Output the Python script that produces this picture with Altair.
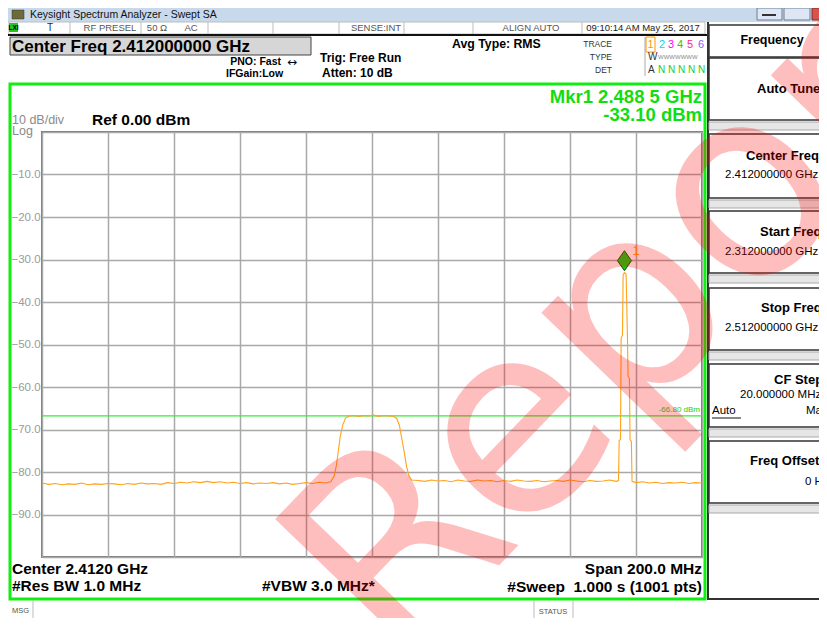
import altair as alt
import pandas as pd

# ---------------- data ----------------
freq_mhz = [
    2312.0, 2314.0, 2316.0, 2318.0, 2320.0, 2322.0, 2324.0, 2326.0, 2328.0, 2330.0,
    2332.0, 2334.0, 2336.0, 2338.0, 2340.0, 2342.0, 2344.0, 2346.0, 2348.0, 2350.0,
    2352.0, 2354.0, 2356.0, 2358.0, 2360.0, 2362.0, 2364.0, 2366.0, 2368.0, 2370.0,
    2372.0, 2374.0, 2376.0, 2378.0, 2380.0, 2382.0, 2384.0, 2386.0, 2388.0, 2390.0,
    2392.0, 2394.0, 2396.0, 2398.0, 2399.5, 2400.5, 2401.2, 2401.8, 2402.4, 2403.2,
    2404.0, 2405.0, 2406.5, 2408.0, 2409.5, 2411.0, 2412.5, 2414.0, 2415.5, 2417.0,
    2418.5, 2419.5, 2420.3, 2421.0, 2421.8, 2422.5, 2423.2, 2424.0, 2426.0, 2428.0,
    2430.0, 2432.0, 2434.0, 2436.0, 2438.0, 2440.0, 2442.0, 2444.0, 2446.0, 2448.0,
    2450.0, 2452.0, 2454.0, 2456.0, 2458.0, 2460.0, 2462.0, 2464.0, 2466.0, 2468.0,
    2470.0, 2472.0, 2474.0, 2476.0, 2478.0, 2480.0, 2482.0, 2484.0, 2486.0, 2486.7,
    2486.9, 2487.3, 2487.5, 2487.9, 2488.1, 2488.5, 2489.0, 2489.4, 2489.6, 2490.0,
    2490.2, 2490.6, 2490.8, 2492.0, 2494.0, 2496.0, 2498.0, 2500.0, 2502.0, 2504.0,
    2506.0, 2508.0, 2510.0, 2512.0,
]
level_dbm = [
    -82.6, -82.9, -82.7, -83.0, -82.8, -82.9, -82.6, -83.0, -82.8, -82.9,
    -82.7, -82.8, -83.0, -82.7, -82.9, -82.6, -82.8, -82.7, -82.9, -82.5,
    -82.7, -82.4, -82.6, -82.3, -82.5, -82.2, -82.5, -82.3, -82.6, -82.4,
    -82.7, -82.5, -82.8, -82.6, -82.7, -82.5, -82.8, -82.6, -82.9, -82.7,
    -82.5, -82.7, -82.4, -82.6, -82.3, -81.0, -78.5, -75.0, -71.5, -68.8,
    -67.3, -66.9, -66.7, -66.9, -66.7, -66.8, -66.6, -66.9, -66.7, -66.8,
    -66.9, -67.4, -69.0, -72.0, -75.5, -78.8, -80.9, -81.9, -82.0, -82.2,
    -81.9, -82.1, -82.0, -82.3, -81.9, -82.1, -82.2, -81.9, -82.1, -82.0,
    -82.3, -82.0, -82.2, -81.9, -82.1, -82.2, -82.0, -82.3, -82.1, -82.0,
    -82.2, -81.9, -82.1, -82.3, -82.0, -82.2, -82.1, -81.9, -82.2, -82.0,
    -72.6, -72.3, -48.5, -47.8, -33.6, -33.1, -33.4, -48.0, -57.5, -58.0,
    -72.4, -72.8, -82.2, -82.5, -82.3, -82.6, -82.4, -82.7, -82.5, -82.6,
    -82.4, -82.7, -82.5, -82.6,
]
display_line_dbm = [-66.8]
marker_ids = ["1"]
marker_freq_mhz = [2488.5]
marker_level_dbm = [-33.1]
x_grid_mhz = [2312, 2332, 2352, 2372, 2392, 2412, 2432, 2452, 2472, 2492, 2512]
y_grid_dbm = [0, -10, -20, -30, -40, -50, -60, -70, -80, -90, -100]

trace = pd.DataFrame({"freq": freq_mhz, "level": level_dbm})
dline = pd.DataFrame({"level": display_line_dbm})
mk = pd.DataFrame({"id": marker_ids, "freq": marker_freq_mhz, "level": marker_level_dbm})
dummy = pd.DataFrame({"k": [0]})

# ---------------- geometry ----------------
OX, OY = 42, 132          # page position of plot origin
W, H = 660, 425
FONT = "Liberation Sans"
NB = "\u00a0"

x_enc = alt.X("freq:Q", scale=alt.Scale(domain=[2312, 2512], nice=False, zero=False),
              axis=alt.Axis(values=x_grid_mhz, labels=False, ticks=False, domain=False,
                            grid=True, title=None, gridColor="#a9a9a9", gridWidth=1.5))
y_enc = alt.Y("level:Q", scale=alt.Scale(domain=[-100, 0], nice=False, zero=False),
              axis=alt.Axis(values=y_grid_dbm,
                            labelExpr="datum.value == 0 || datum.value == -100 ? '' : format(datum.value, '.1f')",
                            ticks=False, domain=False, grid=True, title=None,
                            labelAlign="left", labelPadding=31, labelColor="#9a9a9a",
                            labelFontSize=11.5, labelFont=FONT,
                            gridColor="#a9a9a9", gridWidth=1.5))

base = alt.Chart(dummy)


def txt(s, px, py, size=11, color="black", weight="normal", align="left", font=FONT,
        baseline="middle", **kw):
    return base.mark_text(text=s, fontSize=size, color=color, fontWeight=weight,
                          align=align, baseline=baseline, font=font, **kw
                          ).encode(x=alt.value(px - OX), y=alt.value(py - OY))


def box(x1, y1, x2, y2, fill="white", stroke="#333333", sw=1.0, fo=1.0):
    return base.mark_rect(fill=fill, fillOpacity=fo, stroke=stroke, strokeWidth=sw).encode(
        x=alt.value(x1 - OX), x2=alt.value(x2 - OX), y=alt.value(y1 - OY), y2=alt.value(y2 - OY))


def hline(x1, x2, py, color="#333333", sw=1.0):
    return base.mark_rule(color=color, strokeWidth=sw).encode(
        x=alt.value(x1 - OX), x2=alt.value(x2 - OX), y=alt.value(py - OY))


def vline(px, y1, y2, color="#333333", sw=1.0):
    return base.mark_rule(color=color, strokeWidth=sw).encode(
        x=alt.value(px - OX), y=alt.value(y1 - OY), y2=alt.value(y2 - OY))


layers = []

# ---------- window chrome ----------
layers.append(box(8, 8, 827, 22, fill="#c9d9ec", stroke="#c9d9ec", sw=0))
layers.append(box(12, 10, 24, 19, fill="#6b6a3a", stroke="#3a3a20", sw=0.5))
layers.append(txt("Keysight Spectrum Analyzer - Swept SA", 30, 15, size=10.5, color="#111111"))
layers.append(box(757, 8, 782, 20, fill="#dde6f2", stroke="#6d7f99", sw=1))
layers.append(box(784, 8, 810, 20, fill="#dde6f2", stroke="#6d7f99", sw=1))
layers.append(box(812, 8, 827, 20, fill="#d9534a", stroke="#8a2a22", sw=1))
layers.append(hline(762, 776, 15, color="#333333", sw=2))

# status row
layers.append(box(8, 22, 705, 34, fill="white", stroke="#bdbdbd", sw=1))
for px in [70, 141, 208, 273, 339, 404, 473, 582]:
    layers.append(vline(px, 22, 34, color="#bdbdbd"))
layers.append(box(9, 23, 18, 32, fill="#22c822", stroke="#22c822", sw=0))
layers.append(txt("LXI", 13.5, 28, size=6.5, color="black", weight="bold", align="center"))
layers.append(txt("T", 50, 28, size=10, color="#1a2a6a", align="center"))
layers.append(txt("RF PRESEL", 110, 28, size=9.5, color="#555555", align="center"))
layers.append(txt("50 Ω", 157, 28, size=9.5, color="#555555", align="center"))
layers.append(txt("AC", 191, 28, size=9.5, color="#555555", align="center"))
layers.append(txt("SENSE:INT", 376, 28, size=9.5, color="#555555", align="center"))
layers.append(txt("ALIGN AUTO", 531, 28, size=9.5, color="#555555", align="center"))
layers.append(txt("09:10:14 AM May 25, 2017", 643, 28, size=9.5, color="#222222", align="center"))
layers.append(hline(8, 707, 35, color="#111111", sw=2))

# header of trace window
layers.append(box(10, 37, 311, 55, fill="#d6d6d6", stroke="#444444", sw=1))
layers.append(txt("Center Freq 2.412000000 GHz", 12, 46.5, size=17, weight="bold"))
layers.append(txt("PNO: Fast", 281, 62, size=10.5, weight="bold", align="right"))
layers.append(txt("↔", 292, 62, size=12, align="center", font="DejaVu Sans"))
layers.append(txt("IFGain:Low", 226, 74, size=10.5, weight="bold"))
layers.append(txt("Trig: Free Run", 320, 58, size=12, weight="bold"))
layers.append(txt("Atten: 10 dB", 322, 73, size=12, weight="bold"))
layers.append(txt("Avg Type: RMS", 452, 44, size=12.3, weight="bold"))
layers.append(txt("TRACE", 612, 44, size=8.5, color="#333333", align="right"))
layers.append(txt("TYPE", 612, 57, size=8.5, color="#333333", align="right"))
layers.append(txt("DET", 612, 70, size=8.5, color="#333333", align="right"))
layers.append(vline(645, 37, 76, color="#aaaaaa"))
layers.append(box(646, 37, 655, 52, fill="white", stroke="#ff9900", sw=1))
for s, px, c in [("1", 650.5, "#ff9900"), ("2", 662, "#00d8e8"), ("3", 671, "#ff00ff"),
                 ("4", 680, "#22cc22"), ("5", 690, "#ff2288"), ("6", 701, "#8a5cff")]:
    layers.append(txt(s, px, 45, size=11, color=c, align="center"))
layers.append(txt("W", 648, 57, size=10, color="#333333"))
layers.append(txt("WWWWWWW", 658, 57, size=6, color="#888888"))
layers.append(txt("A", 648, 70, size=10, color="#333333"))
layers.append(txt("N N N N N", 658, 70, size=10, color="#22cc22"))

# right soft-key panel
layers.append(vline(708, 22, 600, color="#333333", sw=2))
layers.append(box(709, 25, 830, 57, fill="white", stroke="#333333", sw=1.5))
layers.append(txt("Frequency", 772, 40, size=12.5, weight="bold", align="center"))
for (t1, t2) in [(57, 120), (133, 198), (210, 273), (287, 350), (363, 427), (440, 503)]:
    layers.append(box(709, t1 + 1, 830, t2, fill="white", stroke="#333333", sw=1.5))
    layers.append(box(709, t2 + 2, 830, t2 + 10, fill="#e6e6e6", stroke="#aaaaaa", sw=1))
layers.append(hline(709, 830, 599, color="#333333", sw=2))
layers.append(txt("Auto Tune", 757, 89, size=13, weight="bold"))
layers.append(txt("Center Freq", 746, 156, size=13, weight="bold"))
layers.append(txt("2.412000000 GHz", 725, 175, size=11.5))
layers.append(txt("Start Freq", 760, 232, size=13, weight="bold"))
layers.append(txt("2.312000000 GHz", 725, 252, size=11.5))
layers.append(txt("Stop Freq", 761, 308, size=13, weight="bold"))
layers.append(txt("2.512000000 GHz", 725, 328, size=11.5))
layers.append(txt("CF Step", 774, 380, size=13, weight="bold"))
layers.append(txt("20.000000 MHz", 740, 395, size=11.5))
layers.append(txt("Auto", 712, 411, size=11.5))
layers.append(hline(712, 741, 418, color="#111111", sw=1))
layers.append(txt("Man", 806, 411, size=11.5))
layers.append(txt("Freq Offset", 750, 461, size=13, weight="bold"))
layers.append(txt("0 Hz", 805, 482, size=11.5))

# green frame of the trace window
layers.append(box(10, 84, 705, 599, fill="white", stroke="#11ee11", sw=3, fo=0))

# texts around the graticule
layers.append(txt("10 dB/div", 12, 120, size=12.5, color="#8a8a8a"))
layers.append(txt("Log", 12, 131, size=12.5, color="#8a8a8a"))
layers.append(txt("Ref 0.00 dBm", 92, 120, size=15.5, weight="bold"))
layers.append(txt("Mkr1 2.488 5 GHz", 702, 97, size=18.5, weight="bold", color="#11dd11", align="right"))
layers.append(txt("-33.10 dBm", 702, 115, size=18.5, weight="bold", color="#11dd11", align="right"))
layers.append(txt("Center 2.4120 GHz", 12, 569, size=15.5, weight="bold"))
layers.append(txt("#Res BW 1.0 MHz", 12, 586, size=15.5, weight="bold"))
layers.append(txt("#VBW 3.0 MHz*", 262, 586, size=15.5, weight="bold"))
layers.append(txt("Span 200.0 MHz", 702, 569, size=15.5, weight="bold", align="right"))
layers.append(txt("#Sweep" + NB + NB + "1.000 s (1001 pts)", 702, 587, size=15.5, weight="bold",
                  align="right"))

# message bar
layers.append(vline(33, 600, 620, color="#bbbbbb"))
layers.append(vline(534, 600, 620, color="#bbbbbb"))
layers.append(vline(573, 600, 620, color="#bbbbbb"))
layers.append(txt("MSG", 12, 611, size=7.5, color="#555555"))
layers.append(txt("STATUS", 553, 612, size=7.5, color="#555555", align="center"))

# ---------- data layers ----------
grid_layer = alt.Chart(trace).mark_line(opacity=0).encode(x=x_enc, y=y_enc)
dline_layer = alt.Chart(dline).mark_rule(color="#33ee33", strokeWidth=1.2).encode(y=y_enc)
dline_lbl = alt.Chart(dline).mark_text(text="-66.80 dBm", align="right", baseline="bottom",
                                       dy=-2, fontSize=8, color="#22cc22", font=FONT).encode(
    x=alt.value(W - 2), y=y_enc)
trace_layer = alt.Chart(trace).mark_line(color="#ffa31a", strokeWidth=1.1,
                                         interpolate="linear").encode(x=x_enc, y=y_enc, order="freq:Q")
marker_layer = alt.Chart(mk).mark_point(shape="M0,-1L0.7,0L0,1L-0.7,0Z", size=400, filled=True,
                                        fill="#11cc11", stroke="#1a4a1a", strokeWidth=1,
                                        opacity=1, yOffset=-12).encode(x=x_enc, y=y_enc)
marker_lbl = alt.Chart(mk).mark_text(align="left", baseline="middle", dx=8, dy=-22, fontSize=13,
                                     color="#ff9900", font=FONT).encode(x=x_enc, y=y_enc, text="id:N")

watermark = txt("Report", 396, 672, size=265, color="#ff0000", angle=314, opacity=0.25,
                font="DejaVu Sans", baseline="alphabetic")

chart = alt.layer(
    *layers,
    grid_layer, dline_layer, dline_lbl, trace_layer, marker_layer, marker_lbl, watermark,
).properties(
    width=W, height=H,
    autosize=alt.AutoSizeParams(type="none"),
    padding={"left": OX - 8, "top": OY - 8, "right": 811 - (OX - 8) - W, "bottom": 610 - (OY - 8) - H},
    background="white",
).configure_view(stroke="#7a7a7a", strokeWidth=2)

chart.save("out.html", embed_options={"renderer": "svg", "actions": False})
